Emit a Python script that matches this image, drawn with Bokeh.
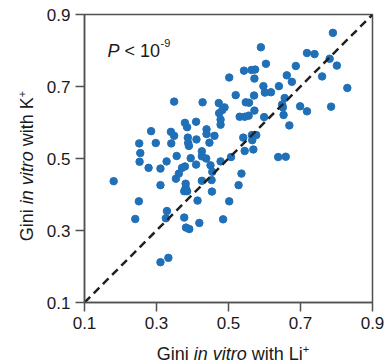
import math
from bokeh.plotting import figure
from bokeh.models import Range1d, FixedTicker, Label, Div
from bokeh.layouts import row, column
from bokeh.embed import file_html
from bokeh.resources import INLINE

# ---- data ----
gini_li = [0.502, 0.349, 0.428, 0.473, 0.489, 0.483, 0.474, 0.478, 0.478, 0.379,
           0.385, 0.410, 0.285, 0.340, 0.349, 0.439, 0.439, 0.461, 0.387, 0.411,
           0.252, 0.298, 0.341, 0.388, 0.390, 0.447, 0.426, 0.255, 0.356, 0.395,
           0.426, 0.438, 0.507, 0.590, 0.604, 0.543, 0.564, 0.574, 0.572, 0.597,
           0.601, 0.618, 0.640, 0.520, 0.571, 0.548, 0.557, 0.572, 0.531, 0.545,
           0.556, 0.599, 0.541, 0.565, 0.577, 0.566, 0.545, 0.569, 0.790, 0.718,
           0.739, 0.781, 0.801, 0.687, 0.662, 0.676, 0.760, 0.830, 0.656, 0.649,
           0.651, 0.699, 0.718, 0.785, 0.653, 0.669, 0.638, 0.659, 0.253, 0.278,
           0.311, 0.328, 0.371, 0.379, 0.362, 0.354, 0.181, 0.311, 0.381, 0.381,
           0.377, 0.385, 0.251, 0.329, 0.326, 0.241, 0.377, 0.382, 0.391, 0.333,
           0.311, 0.414, 0.419, 0.485, 0.502, 0.454, 0.453, 0.455, 0.450, 0.426,
           0.410, 0.478, 0.536, 0.528]
gini_k = [0.725, 0.658, 0.656, 0.654, 0.642, 0.635, 0.626, 0.608, 0.594, 0.599,
          0.587, 0.602, 0.576, 0.574, 0.563, 0.581, 0.568, 0.563, 0.558, 0.553,
          0.542, 0.543, 0.542, 0.543, 0.535, 0.544, 0.520, 0.515, 0.507, 0.501,
          0.506, 0.500, 0.504, 0.809, 0.763, 0.744, 0.746, 0.747, 0.722, 0.701,
          0.683, 0.684, 0.701, 0.676, 0.675, 0.656, 0.655, 0.633, 0.616, 0.616,
          0.619, 0.615, 0.558, 0.565, 0.565, 0.551, 0.521, 0.525, 0.849, 0.793,
          0.790, 0.777, 0.758, 0.757, 0.731, 0.713, 0.728, 0.696, 0.668, 0.650,
          0.642, 0.645, 0.631, 0.644, 0.621, 0.592, 0.504, 0.505, 0.491, 0.474,
          0.472, 0.492, 0.474, 0.478, 0.458, 0.444, 0.437, 0.426, 0.430, 0.419,
          0.409, 0.409, 0.381, 0.354, 0.334, 0.332, 0.336, 0.308, 0.304, 0.224,
          0.212, 0.383, 0.321, 0.331, 0.381, 0.408, 0.440, 0.463, 0.481, 0.438,
          0.483, 0.492, 0.458, 0.426]
axis_min, axis_max = 0.1, 0.9
tick_values = [0.1, 0.3, 0.5, 0.7, 0.9]
tick_labels = ["0.1", "0.3", "0.5", "0.7", "0.9"]
identity_line = [0.1, 0.9]
x_label_html = "Gini <i>in vitro</i> with Li"
y_label_html = "Gini <i>in vitro</i> with K"
label_sup = "+"
p_italic = "P"
p_rest = "< 10"
p_sup = "-9"

# ---- styling ----
FONT = "Liberation Sans"
TXT = "#1a1a1a"
AX = "#505050"
BLUE = "#2070b8"
W = {'G': 778, 'i': 222, 'n': 556, ' ': 278, 'v': 500, 't': 278, 'r': 333, 'o': 556,
     'w': 722, 'h': 556, 'L': 556, 'K': 667, '+': 584, 'P': 667, '<': 584, '1': 556,
     '0': 556, '-': 333, '9': 556}


def tw(s, size):
    return sum(W.get(c, 556) for c in s) * size / 1000.0


YDIV_W = 33
FIG_W = 343
FIG_H = 339
XDIV_H = 24
BORDER_L = 41
FRAME = 288

p = figure(width=FIG_W, height=FIG_H, output_backend="svg", toolbar_location=None,
           x_range=Range1d(axis_min, axis_max), y_range=Range1d(axis_min, axis_max),
           frame_width=FRAME, frame_height=FRAME,
           min_border_left=BORDER_L, min_border_top=14, min_border_right=14, min_border_bottom=37)
p.background_fill_color = "white"
p.border_fill_color = "white"
p.xgrid.visible = False
p.ygrid.visible = False
p.outline_line_color = AX
p.outline_line_width = 1.5

for ax in (p.xaxis[0], p.yaxis[0]):
    ax.ticker = FixedTicker(ticks=tick_values)
    ax.major_label_overrides = {v: s for v, s in zip(tick_values, tick_labels)}
    ax.minor_tick_line_color = None
    ax.major_tick_in = 0
    ax.major_tick_out = 9
    ax.major_tick_line_color = AX
    ax.major_tick_line_width = 1.5
    ax.axis_line_color = AX
    ax.axis_line_width = 1.5
    ax.major_label_text_font = FONT
    ax.major_label_text_font_size = "17px"
    ax.major_label_text_color = TXT
    ax.major_label_standoff = 5

p.scatter(gini_li, gini_k, size=7.5, color=BLUE, line_color=BLUE)
p.line(identity_line, identity_line, line_color="#222222", line_width=2.5, line_dash="8 5")

# ---- P value annotation (inside the frame) ----
LS = 18
SS = 11
x0 = 23
p.add_layout(Label(x=axis_min, y=axis_max, x_offset=x0, y_offset=-36, text=p_italic,
                   text_font=FONT, text_font_size=f"{LS}px", text_font_style="italic",
                   text_color=TXT, text_align="left", text_baseline="alphabetic"))
x1 = x0 + tw(p_italic + " ", LS)
p.add_layout(Label(x=axis_min, y=axis_max, x_offset=x1, y_offset=-36, text=p_rest,
                   text_font=FONT, text_font_size=f"{LS}px",
                   text_color=TXT, text_align="left", text_baseline="alphabetic"))
x2 = x1 + tw(p_rest, LS) + 0.5
p.add_layout(Label(x=axis_min, y=axis_max, x_offset=x2, y_offset=-36 + 7.5, text=p_sup,
                   text_font=FONT, text_font_size=f"{SS}px",
                   text_color=TXT, text_align="left", text_baseline="alphabetic"))

# ---- axis labels as HTML (mixed italic / superscript) ----
sup = f'<span style="font-size:{SS}px; vertical-align:7px; line-height:0;">{label_sup}</span>'
base_style = (f"font-family:'{FONT}'; font-size:{LS}px; line-height:18px; color:{TXT}; "
              "white-space:nowrap; position:absolute;")

frame_cx = BORDER_L + FRAME / 2
xdiv = Div(width=FIG_W, height=XDIV_H, text=(
    f'<div style="position:relative; width:{FIG_W}px; height:{XDIV_H}px;">'
    f'<div style="{base_style} left:{frame_cx}px; top:1px; transform:translate(-50%,0);">'
    f'{x_label_html}{sup}</div></div>'))

ydiv = Div(width=YDIV_W, height=FIG_H + XDIV_H, text=(
    f'<div style="position:relative; width:{YDIV_W}px; height:{FIG_H + XDIV_H}px;">'
    f'<div style="{base_style} left:22px; top:161px; transform:translate(-50%,-50%) rotate(-90deg);">'
    f'{y_label_html}{sup}</div></div>'))

layout = row(ydiv, column(p, xdiv, spacing=0), spacing=0)

open("out.html", "w").write(file_html(layout, INLINE))
